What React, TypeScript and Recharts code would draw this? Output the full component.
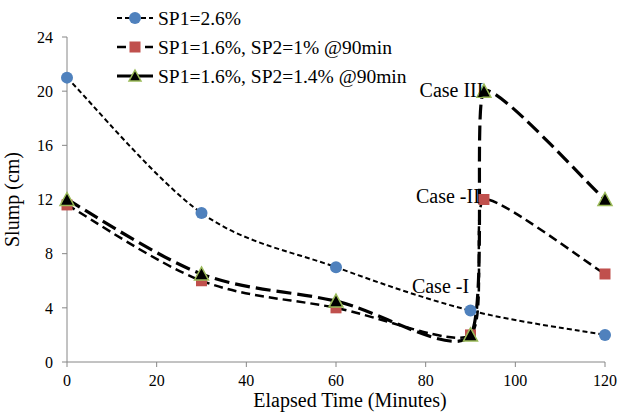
import React from "react";
import { LineChart, Line, XAxis, YAxis, ReferenceDot } from "recharts";

// elapsed time (min) and slump (cm)
const timeSingle = [0, 30, 60, 90, 120];
const slumpSp26 = [21, 11, 7, 3.8, 2];

const timeDosed = [0, 30, 60, 90, 93, 120];
const slumpSp2One = [11.6, 6, 4, 2, 12, 6.5];
const slumpSp2OnePointFour = [12, 6.5, 4.5, 2, 20, 12];

const seriesNames = [
  "SP1=2.6%",
  "SP1=1.6%, SP2=1% @90min",
  "SP1=1.6%, SP2=1.4% @90min",
];

const xTicks = [0, 20, 40, 60, 80, 100, 120];
const yTicks = [0, 4, 8, 12, 16, 20, 24];

const caseNames = ["Case III", "Case -II", "Case -I"];
const caseTimes = [94, 93.2, 90.8];
const caseSlumps = [20.1, 12.3, 5.6];

const FONT = '"Liberation Serif", "Times New Roman", serif';
const AXIS = "#868686";

const sp26Data = timeSingle.map((t, i) => ({ t, v: slumpSp26[i] }));
const sp2OneData = timeDosed.map((t, i) => ({ t, v: slumpSp2One[i] }));
const sp2OnePointFourData = timeDosed.map((t, i) => ({
  t,
  v: slumpSp2OnePointFour[i],
}));

const dist = (a: number[], b: number[]) => Math.hypot(b[0] - a[0], b[1] - a[1]);

// tangent at point i, shortened where the line turns sharply
const tangent = (pts: number[][], i: number) => {
  const p0 = pts[Math.max(i - 1, 0)];
  const p1 = pts[i];
  const p2 = pts[Math.min(i + 1, pts.length - 1)];
  const chord = dist(p0, p2);
  const path = dist(p0, p1) + dist(p1, p2);
  const ratio = path > 0 ? chord / path : 1;
  const k = (1 / 6) * ratio;
  return [(p2[0] - p0[0]) * k, (p2[1] - p0[1]) * k];
};

// smoothed line, roughly like the spreadsheet's
const smoothCurve = (context: any) => {
  let pts: number[][] = [];
  return {
    areaStart() {},
    areaEnd() {},
    lineStart() {
      pts = [];
    },
    point(x: number, y: number) {
      pts.push([+x, +y]);
    },
    lineEnd() {
      if (!pts.length) return;
      context.moveTo(pts[0][0], pts[0][1]);
      for (let i = 0; i < pts.length - 1; i++) {
        const p1 = pts[i];
        const p2 = pts[i + 1];
        const t1 = tangent(pts, i);
        const t2 = tangent(pts, i + 1);
        context.bezierCurveTo(
          p1[0] + t1[0],
          p1[1] + t1[1],
          p2[0] - t2[0],
          p2[1] - t2[1],
          p2[0],
          p2[1]
        );
      }
    },
  };
};

const CircleMark = ({ cx, cy, r = 6 }: any) => (
  <circle cx={cx} cy={cy} r={r} fill="#4F81BD" />
);
const SquareMark = ({ cx, cy, s = 11 }: any) => (
  <rect x={cx - s / 2} y={cy - s / 2} width={s} height={s} fill="#C0504D" />
);
const TriangleMark = ({ cx, cy, s = 7 }: any) => (
  <polygon
    points={`${cx},${cy - s} ${cx + s},${cy + s - 1} ${cx - s},${cy + s - 1}`}
    fill="#000"
    stroke="#9BBB59"
    strokeWidth={1.5}
  />
);

const dashes = ["5 3", "9 5", "15 6"];
const widths = [2, 2.5, 3.2];

const LegendBox = () => {
  const marks = [
    <CircleMark cx={135} cy={0} r={6} />,
    <SquareMark cx={135} cy={0} s={11} />,
    <TriangleMark cx={135} cy={0} s={6} />,
  ];
  return (
    <svg
      width={460}
      height={90}
      style={{ position: "absolute", left: 0, top: 0 }}
    >
      {seriesNames.map((name, i) => (
        <g key={name} transform={`translate(0, ${18 + i * 29})`}>
          <line
            x1={117}
            x2={153}
            y1={0}
            y2={0}
            stroke="#000"
            strokeWidth={widths[i]}
            strokeDasharray={dashes[i]}
          />
          {marks[i]}
          <text
            x={158}
            y={0}
            dy="0.35em"
            fill="#000"
            style={{ fontFamily: FONT, fontSize: 19.5 }}
          >
            {name}
          </text>
        </g>
      ))}
    </svg>
  );
};

export default function App() {
  return (
    <div
      style={{
        position: "absolute",
        left: 0,
        top: 0,
        width: 629,
        height: 412,
        background: "#fff",
        fontFamily: FONT,
      }}
    >
      <LineChart
        width={629}
        height={412}
        margin={{ top: 37, right: 24, left: 0, bottom: 0 }}
      >
        <XAxis
          dataKey="t"
          type="number"
          domain={[0, 120]}
          ticks={xTicks}
          interval={0}
          height={50}
          stroke={AXIS}
          tickSize={5}
          tickMargin={8}
          tick={{
            fill: "#000",
            fontSize: 16,
            fontFamily: FONT,
            style: { fontFamily: FONT },
          }}
          label={{
            value: "Elapsed Time (Minutes)",
            position: "insideBottom",
            offset: 5,
            dx: 14,
            style: { fill: "#000", fontSize: 20, fontFamily: FONT },
          }}
        />
        <YAxis
          type="number"
          domain={[0, 24]}
          ticks={yTicks}
          interval={0}
          width={67}
          stroke={AXIS}
          tickSize={5}
          tickMargin={9}
          tick={{
            fill: "#000",
            fontSize: 16,
            fontFamily: FONT,
            style: { fontFamily: FONT },
          }}
          label={{
            value: "Slump (cm)",
            angle: -90,
            position: "insideLeft",
            offset: 18,
            dx: -6,
            style: {
              textAnchor: "middle",
              fill: "#000",
              fontSize: 20,
              fontFamily: FONT,
            },
          }}
        />
        <Line
          data={sp26Data}
          dataKey="v"
          type={smoothCurve as any}
          stroke="#000"
          strokeWidth={widths[0]}
          strokeDasharray={dashes[0]}
          dot={(p: any) => <CircleMark key={`c${p.index}`} cx={p.cx} cy={p.cy} />}
          activeDot={false}
          isAnimationActive={false}
        />
        <Line
          data={sp2OneData}
          dataKey="v"
          type={smoothCurve as any}
          stroke="#000"
          strokeWidth={widths[1]}
          strokeDasharray={dashes[1]}
          dot={(p: any) => <SquareMark key={`s${p.index}`} cx={p.cx} cy={p.cy} />}
          activeDot={false}
          isAnimationActive={false}
        />
        <Line
          data={sp2OnePointFourData}
          dataKey="v"
          type={smoothCurve as any}
          stroke="#000"
          strokeWidth={widths[2]}
          strokeDasharray={dashes[2]}
          dot={(p: any) => (
            <TriangleMark key={`t${p.index}`} cx={p.cx} cy={p.cy} />
          )}
          activeDot={false}
          isAnimationActive={false}
        />
        {caseNames.map((name, i) => (
          <ReferenceDot
            key={name}
            x={caseTimes[i]}
            y={caseSlumps[i]}
            r={0}
            fill="none"
            stroke="none"
            label={{
              value: name,
              position: "left",
              offset: 5,
              style: { fill: "#000", fontSize: 20, fontFamily: FONT },
            }}
          />
        ))}
      </LineChart>
      <LegendBox />
    </div>
  );
}
